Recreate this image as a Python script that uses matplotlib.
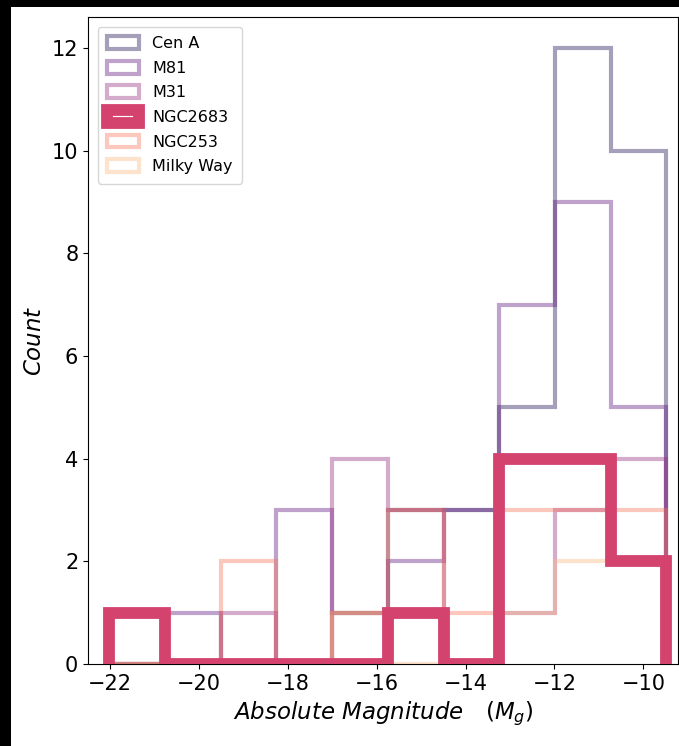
import matplotlib
matplotlib.use("Agg")
import matplotlib.pyplot as plt
import numpy as np
import seaborn as sns
from matplotlib.patches import Rectangle

# magnitude bins shared by every galaxy
bin_edges = np.linspace(-22.02, -9.48, 11)

galaxies = ["Cen A", "M81", "M31", "NGC2683", "NGC253", "Milky Way"]

# satellite counts per bin, brightest bin first
cen_a = [0, 0, 0, 0, 1, 3, 3, 5, 12, 10]
m81 = [0, 1, 0, 3, 1, 2, 3, 7, 9, 5]
m31 = [0, 0, 1, 0, 4, 3, 0, 1, 3, 4]
ngc2683 = [1, 0, 0, 0, 0, 1, 0, 4, 4, 2]
ngc253 = [0, 0, 2, 0, 1, 3, 1, 3, 3, 3]
milky_way = [0, 0, 0, 0, 1, 0, 0, 1, 2, 2]

counts = [cen_a, m81, m31, ngc2683, ngc253, milky_way]

colors = sns.color_palette("magma", len(galaxies))
alphas = [0.4, 0.4, 0.4, 1.0, 0.4, 0.4]
widths = [3.0, 3.0, 3.0, 8.5, 3.0, 3.0]
zorders = [1, 1, 1, 3, 1, 1]  # NGC2683 sits on top of the others

fig = plt.figure(figsize=(6.79, 7.46), dpi=100, facecolor="black")
fig.patches.append(Rectangle((11 / 679, 0), 1, 739 / 746, transform=fig.transFigure,
                             facecolor="white", edgecolor="none", zorder=-10))
ax = fig.add_axes([88 / 679, 82 / 746, 590 / 679, 647 / 746])

centers = 0.5 * (bin_edges[:-1] + bin_edges[1:])
for name, c, col, a, lw, z in zip(galaxies, counts, colors, alphas, widths, zorders):
    ax.hist(centers, bins=bin_edges, weights=c, histtype="step",
            color=col, alpha=a, linewidth=lw, label=name, zorder=z)

ax.set_xlim(-22.5, -9.22)
ax.set_ylim(0, 12.6)
ax.set_xticks([-22, -20, -18, -16, -14, -12, -10])
ax.set_yticks([0, 2, 4, 6, 8, 10, 12])
ax.tick_params(labelsize=15)
ax.set_xlabel(r"$Absolute\ Magnitude\quad(M_g)$", fontsize=16.5)
ax.set_ylabel(r"$Count$", fontsize=16.5)
leg = ax.legend(loc="upper left", fontsize=11.5, labelspacing=0.6, handleheight=0.85,
                borderpad=0.6, borderaxespad=0.6)
leg.set_zorder(5)

fig.savefig("out.png", dpi=100, facecolor=fig.get_facecolor())
